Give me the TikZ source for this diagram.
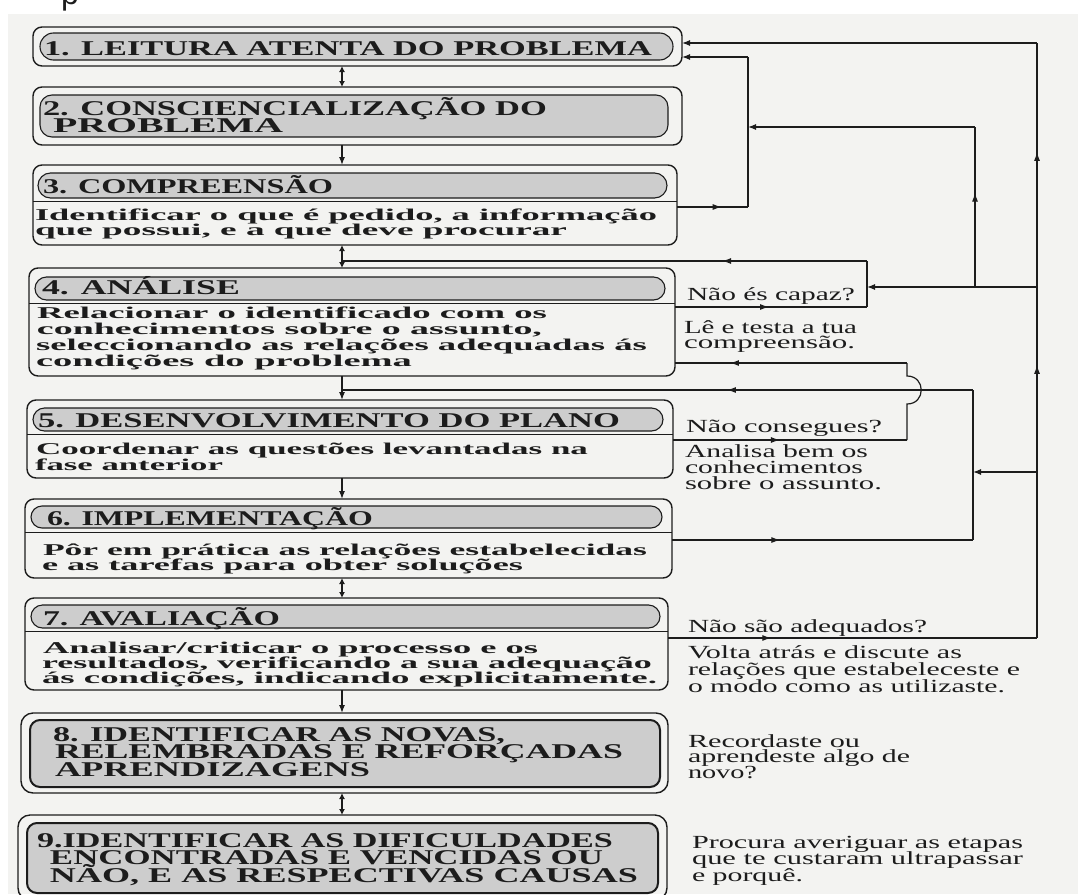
\documentclass[tikz,border=0pt]{standalone}
\usepackage{fontspec}
\setmainfont{Liberation Serif}
\newfontfamily\sansp{Liberation Sans}
\usepackage{graphicx}
\usetikzlibrary{arrows.meta,decorations.markings,calc}
\definecolor{ink}{HTML}{1C1C1C}
\definecolor{paper}{HTML}{F3F3F1}
\definecolor{shade}{HTML}{CDCDCD}
\newcommand\ftitle{\fontsize{21pt}{17pt}\selectfont\bfseries}
\newcommand\fbody{\fontsize{16.5pt}{16pt}\selectfont\bfseries}
\newcommand\fside{\fontsize{18.5pt}{17pt}\selectfont}
\newcommand\fitline[2]{\setbox0=\hbox{#2}\edef\fitw{\the\wd0}\pgfmathsetmacro\fitsx{(#1)/\fitw}\scalebox{\fitsx}[1]{\box0}}
% one line: indent, width, text
\newcommand\sline[3]{\hbox{\kern#1pt\fitline{#2}{#3}}}
% stack of lines with a given baseline distance
\newcommand\stack[2]{\vtop{\baselineskip=#1pt\lineskiplimit=-1000pt\lineskip=0pt #2}}
\begin{document}
\begin{tikzpicture}[x=1pt,y=-1pt,
  outer/.style={draw=ink,line width=1.4pt,rounded corners=9pt,inner sep=0pt,outer sep=0pt,anchor=north west},
  pill/.style={draw=ink,line width=1.1pt,fill=shade,inner sep=0pt,outer sep=0pt,anchor=north west},
  inner/.style={draw=ink,line width=2pt,fill=shade,rounded corners=10pt,inner sep=0pt,outer sep=0pt,anchor=north west},
  divider/.style={draw=ink,line width=1pt},
  conn/.style={draw=ink,line width=1.2pt},
  tipA/.tip={Latex[length=8pt,width=6pt]},
  tipB/.tip={Latex[length=6pt,width=6pt]},
  down/.style={conn,-tipA},
  dbl/.style={conn,tipB-tipB},
  toend/.style={conn,-tipA},
  txt/.style={anchor=base west,inner sep=0pt,outer sep=0pt,text=ink},
  ttl/.style={txt,font=\ftitle},
  bdy/.style={txt,font=\fbody},
  sid/.style={txt,font=\fside},
  midarrow/.style={postaction={decorate,decoration={markings,mark=at position #1 with {\arrow{Latex[length=9pt,width=6pt]}}}}},
  midarrows/.style 2 args={postaction={decorate,decoration={markings,mark=at position #1 with {\arrow{Latex[length=9pt,width=6pt]}},mark=at position #2 with {\arrow{Latex[length=9pt,width=6pt]}}}}}
]
\useasboundingbox (0,0) rectangle (1078,894);
\fill[white] (0,0) rectangle (1078,894);
\fill[paper] (8,14) rectangle (1078,894);
\node[anchor=base west,inner sep=0pt,text=ink,font=\sansp\fontsize{32pt}{32pt}\selectfont] (pfrag) at (61,5) {p};

% ---------- boxes ----------
\node[outer,minimum width=649pt,minimum height=39pt] (b1) at (33,27) {};
\node[pill,minimum width=633pt,minimum height=27pt,rounded corners=13.5pt] (p1) at (40,33) {};

\node[outer,minimum width=649pt,minimum height=58pt] (b2) at (33,87) {};
\node[pill,minimum width=628pt,minimum height=42pt,rounded corners=12pt] (p2) at (40,95) {};

\node[outer,minimum width=644pt,minimum height=80pt] (b3) at (33,165) {};
\node[pill,minimum width=629pt,minimum height=25pt,rounded corners=12.5pt] (p3) at (38,173) {};
\draw[divider] (33,201) -- (677,201);

\node[outer,minimum width=646pt,minimum height=108pt] (b4) at (29,268) {};
\node[pill,minimum width=630pt,minimum height=23pt,rounded corners=11.5pt] (p4) at (35,277) {};
\draw[divider] (29,303) -- (675,303);

\node[outer,minimum width=646pt,minimum height=78pt] (b5) at (27,400) {};
\node[pill,minimum width=630pt,minimum height=23pt,rounded corners=11.5pt] (p5) at (33,408) {};
\draw[divider] (27,434) -- (673,434);

\node[outer,minimum width=647pt,minimum height=79pt] (b6) at (25,499) {};
\node[pill,minimum width=631pt,minimum height=22pt,rounded corners=11pt] (p6) at (31,506) {};
\draw[divider] (25,532) -- (672,532);

\node[outer,minimum width=643pt,minimum height=92pt] (b7) at (25,598) {};
\node[pill,minimum width=629pt,minimum height=23pt,rounded corners=11.5pt] (p7) at (31,605) {};
\draw[divider] (25,631) -- (668,631);

\node[outer,minimum width=647pt,minimum height=80pt,rounded corners=12pt] (b8) at (21,713) {};
\node[inner,minimum width=630pt,minimum height=67pt] (p8) at (30,720) {};

\node[outer,minimum width=649pt,minimum height=85pt,rounded corners=12pt] (b9) at (18,815) {};
\node[inner,minimum width=631pt,minimum height=70pt] (p9) at (27,823) {};

% ---------- titles ----------
\node[ttl] (t1) at (44,55) {\fitline{608}{1. LEITURA ATENTA DO PROBLEMA}};
\node[ttl] (t2) at (43,115) {\stack{17}{\sline{0}{504}{2. CONSCIENCIALIZAÇÃO DO}\sline{10}{230}{PROBLEMA}}};
\node[ttl] (t3) at (43,193) {\fitline{290}{3. COMPREENSÃO}};
\node[ttl] (t4) at (42,294) {\fitline{198}{4. ANÁLISE}};
\node[ttl] (t5) at (38,427) {\fitline{582}{5. DESENVOLVIMENTO DO PLANO}};
\node[ttl] (t6) at (47,525) {\fitline{326}{6. IMPLEMENTAÇÃO}};
\node[ttl] (t7) at (43,625) {\fitline{237}{7. AVALIAÇÃO}};
\node[ttl] (t8) at (53,741) {\stack{17.5}{\sline{0}{452}{8. IDENTIFICAR AS NOVAS,}\sline{2}{568}{RELEMBRADAS E REFORÇADAS}\sline{2}{315}{APRENDIZAGENS}}};
\node[ttl] (t9) at (37,847) {\stack{17.5}{\sline{0}{576}{9.IDENTIFICAR AS DIFICULDADES}\sline{13}{553}{ENCONTRADAS E VENCIDAS OU}\sline{13}{588}{NÃO, E AS RESPECTIVAS CAUSAS}}};

% ---------- body texts ----------
\node[bdy] (x3) at (35,220) {\stack{15}{\sline{0}{622}{Identificar o que é pedido, a informação}\sline{0}{532}{que possui, e a que deve procurar}}};
\node[bdy] (x4) at (36,318) {\stack{16.3}{\sline{1}{510}{Relacionar o identificado com os}\sline{1}{505}{conhecimentos sobre o assunto,}\sline{0}{611}{seleccionando as relações adequadas ás}\sline{0}{376}{condições do problema}}};
\node[bdy] (x5) at (35,454) {\stack{16}{\sline{1}{552}{Coordenar as questões levantadas na}\sline{0}{188}{fase anterior}}};
\node[bdy] (x6) at (42,555) {\stack{15}{\sline{1}{604}{Pôr em prática as relações estabelecidas}\sline{0}{481}{e as tarefas para obter soluções}}};
\node[bdy] (x7) at (42,653) {\stack{15}{\sline{1}{495}{Analisar/criticar o processo e os}\sline{0}{610}{resultados, verificando a sua adequação}\sline{0}{615}{ás condições, indicando explicitamente.}}};

% ---------- side texts ----------
\node[sid] (s1) at (687,300) {\fitline{168}{Não és capaz?}};
\node[sid] (s2) at (684,333) {\stack{15}{\sline{0}{173}{Lê e testa a tua}\sline{0}{171}{compreensão.}}};
\node[sid] (s4) at (686,432) {\fitline{196}{Não consegues?}};
\node[sid] (s5) at (685,457) {\stack{16}{\sline{0}{183}{Analisa bem os}\sline{0}{178}{conhecimentos}\sline{0}{197}{sobre o assunto.}}};
\node[sid] (s8) at (688,632) {\fitline{239}{Não são adequados?}};
\node[sid] (s9) at (688,658) {\stack{17}{\sline{0}{274}{Volta atrás e discute as}\sline{0}{332}{relações que estabeleceste e}\sline{0}{317}{o modo como as utilizaste.}}};
\node[sid] (s12) at (688,747) {\stack{15.5}{\sline{0}{172}{Recordaste ou}\sline{0}{222}{aprendeste algo de}\sline{0}{69}{novo?}}};
\node[sid] (s15) at (692,848) {\stack{16.5}{\sline{0}{331}{Procura averiguar as etapas}\sline{0}{331}{que te custaram ultrapassar}\sline{0}{111}{e porquê.}}};

% ---------- coordinates ----------
\coordinate (cx) at (342,0);
\coordinate (k43) at (1037,43);
\coordinate (k638) at (1037,638);
\coordinate (k472) at (1037,472);
\coordinate (k472b) at (973,472);
\coordinate (k287) at (1037,287);
\coordinate (k287b) at (867,287);
\coordinate (u287) at (975,287);
\coordinate (u127) at (975,127);
\coordinate (j127) at (748,127);
\coordinate (v207) at (748,207);
\coordinate (v57) at (748,57);
\coordinate (c307) at (867,307);
\coordinate (c261) at (867,261);
\coordinate (n440) at (907,440);
\coordinate (n404) at (907,404);
\coordinate (n376) at (907,376);
\coordinate (n363) at (907,363);
\coordinate (m540) at (973,540);
\coordinate (m390) at (973,390);

% ---------- central connectors ----------
\draw[dbl] (b1.south -| cx) -- (b2.north -| cx);
\draw[down] (b2.south -| cx) -- (b3.north -| cx);
\draw[dbl] (b3.south -| cx) -- (b4.north -| cx);
\draw[down] (b4.south -| cx) -- (b5.north -| cx);
\draw[down] (b5.south -| cx) -- (b6.north -| cx);
\draw[dbl] (b6.south -| cx) -- (b7.north -| cx);
\draw[down] (b7.south -| cx) -- (b8.north -| cx);
\draw[dbl] (b8.south -| cx) -- (b9.north -| cx);

% ---------- feedback loops ----------
% 7 -> 1 (outer right line)
\draw[conn,midarrow=0.28] (b7.east |- k638) -- (k638);
\draw[conn,midarrows={0.459}{0.817}] (k638) -- (k43);
\draw[toend] (k43) -- (b1.east |- k43);
\draw[toend] (k472) -- (k472b);
\draw[toend] (k287) -- (k287b);
\draw[conn,midarrow=0.59] (u287) -- (u127);
\draw[toend] (u127) -- (j127);
% 3 -> 1
\draw[conn,midarrow=0.63] (b3.east |- v207) -- (v207);
\draw[conn] (v207) -- (v57);
\draw[toend] (v57) -- (b1.east |- v57);
% 4 -> between 3 and 4
\draw[conn,midarrow=0.49] (b4.east |- c307) -- (c307);
\draw[conn] (c307) -- (c261);
\draw[conn,midarrow=0.276] (c261) -- (cx |- c261);
% 5 -> 4
\draw[conn,midarrow=0.457] (b5.east |- n440) -- (n440);
\draw[conn] (n440) -- (n404) .. controls (926,404) and (926,376) .. (n376) -- (n363);
\draw[conn,midarrow=0.763] (n363) -- (b4.east |- n363);
% 6 -> between 4 and 5
\draw[conn,midarrow=0.36] (b6.east |- m540) -- (m540);
\draw[conn] (m540) -- (m390);
\draw[conn,midarrow=0.39] (m390) -- (cx |- m390);
\end{tikzpicture}
\end{document}
